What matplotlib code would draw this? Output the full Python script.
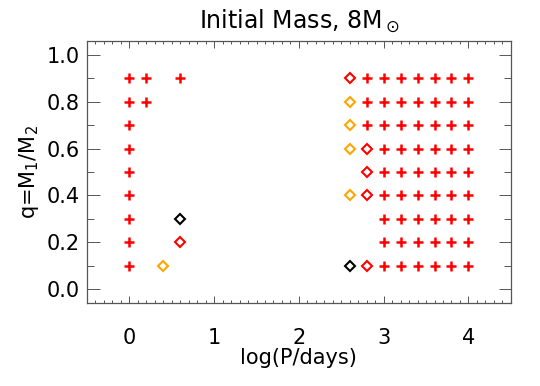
import numpy as np
from matplotlib import pyplot as plt
from matplotlib.ticker import MultipleLocator

# Datos (log P, q) por tipo de simbolo
plus_x = [0, 0, 0, 0, 0, 0, 0, 0, 0, 0.2, 0.2, 0.6,
          2.8, 3.0, 3.2, 3.4, 3.6, 3.8, 4.0,
          2.8, 3.0, 3.2, 3.4, 3.6, 3.8, 4.0,
          2.8, 3.0, 3.2, 3.4, 3.6, 3.8, 4.0]
plus_y = [0.1, 0.2, 0.3, 0.4, 0.5, 0.6, 0.7, 0.8, 0.9, 0.8, 0.9, 0.9,
          0.9, 0.9, 0.9, 0.9, 0.9, 0.9, 0.9,
          0.8, 0.8, 0.8, 0.8, 0.8, 0.8, 0.8,
          0.7, 0.7, 0.7, 0.7, 0.7, 0.7, 0.7]
# filas q=0.1..0.6 con log P = 3.0..4.0
plus_cols = [3.0, 3.2, 3.4, 3.6, 3.8, 4.0]
plus_rows = [0.1, 0.2, 0.3, 0.4, 0.5, 0.6]

red_dia_x = [0.6, 2.6, 2.8, 2.8, 2.8, 2.8]
red_dia_y = [0.2, 0.9, 0.6, 0.5, 0.4, 0.1]
orange_dia_x = [0.4, 2.6, 2.6, 2.6, 2.6]
orange_dia_y = [0.1, 0.8, 0.7, 0.6, 0.4]
black_dia_x = [0.6, 2.6]
black_dia_y = [0.3, 0.1]

fig = plt.figure(figsize=(5.4, 3.86), dpi=100)
ax = fig.add_axes([0.161, 0.215, 0.785, 0.679])

px = list(plus_x) + [c for r in plus_rows for c in plus_cols]
py = list(plus_y) + [r for r in plus_rows for c in plus_cols]
ax.plot(px, py, linestyle='none', marker='+', color='red',
        markersize=6.5, markeredgewidth=1.8)
ax.plot(red_dia_x, red_dia_y, linestyle='none', marker='D', color='red',
        markerfacecolor='none', markersize=5.3, markeredgewidth=1.5)
ax.plot(orange_dia_x, orange_dia_y, linestyle='none', marker='D',
        color='orange', markerfacecolor='none', markersize=5.3,
        markeredgewidth=1.5)
ax.plot(black_dia_x, black_dia_y, linestyle='none', marker='D',
        color='black', markerfacecolor='none', markersize=5.3,
        markeredgewidth=1.5)

ax.set_xlim(-0.5, 4.5)
ax.set_ylim(-0.06, 1.06)
ax.xaxis.set_major_locator(MultipleLocator(1))
ax.xaxis.set_minor_locator(MultipleLocator(0.1))
ax.yaxis.set_major_locator(MultipleLocator(0.2))
ax.yaxis.set_minor_locator(MultipleLocator(0.1))
ax.yaxis.set_major_formatter(plt.FormatStrFormatter('%.1f'))

for s in ax.spines.values():
    s.set_color('#555555')
    s.set_linewidth(0.9)

ax.tick_params(axis='x', which='major', direction='in', top=True,
               length=5, width=0.7, color='#555555', pad=18, labelsize=15)
ax.tick_params(axis='x', which='minor', direction='in', top=True,
               length=2.5, width=0.7, color='#555555')
ax.tick_params(axis='y', which='major', direction='in', right=True,
               length=9, width=0.7, color='#555555', pad=5, labelsize=15)
ax.tick_params(axis='y', which='minor', direction='in', right=True,
               length=5, width=0.7, color='#555555')

ax.set_title(r'Initial Mass, 8M$_\odot$', fontsize=17, pad=9)
ax.set_xlabel('log(P/days)', fontsize=15, labelpad=0)
ax.set_ylabel(r'q=M$_1$/M$_2$', fontsize=15, labelpad=4)

plt.savefig('out.png')
plt.close()
